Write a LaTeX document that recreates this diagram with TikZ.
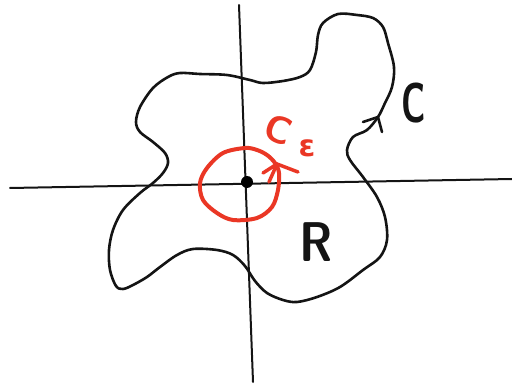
\documentclass[tikz,border=0pt]{standalone}
\usepackage{fontspec}
\newfontfamily\dejavu{DejaVu Sans}
\definecolor{pen}{RGB}{20,20,20}
\definecolor{redpen}{RGB}{234,55,37}
\tikzset{
  blackline/.style={draw=pen, line width=2.6pt, line cap=round, line join=round},
  redline/.style={draw=redpen, line width=4pt, line cap=round, line join=round},
  hand/.style={font=\sffamily\bfseries\fontsize{56}{56}\selectfont, text=pen, inner sep=0pt},
  redhand/.style={font=\sffamily\bfseries\fontsize{38}{38}\selectfont, text=redpen, inner sep=0pt}
}
\begin{document}
\begin{tikzpicture}[x=1pt, y=-1pt]
\useasboundingbox (0,0) rectangle (512,385);
% axes
\coordinate (xl) at (10,188);
\coordinate (xr) at (512,179);
\coordinate (yt) at (239,5);
\coordinate (yb) at (253,382);
\draw[blackline, line width=2pt] (xl) -- (xr);
\draw[blackline, line width=2pt] (yt) -- (yb);
% region boundary C
\draw[blackline] plot[smooth cycle, tension=0.55] coordinates {
 (180,73) (200,74) (227,75) (250,80) (263,83) (283,81) (300,77) (310,70)
 (316,52) (318,35) (323,23) (338,14) (357,15) (373,18) (383,27) (388,43)
 (394,67) (392,87) (385,103) (378,117) (367,130) (353,137) (347,150)
 (350,160) (363,177) (377,197) (385,217) (387,240) (380,257) (363,270)
 (340,287) (317,297) (297,302) (283,300) (267,293) (255,281) (245,266)
 (233,255) (217,250) (193,249) (177,255) (160,267) (147,277) (133,285)
 (123,289) (116,286) (110,270) (109,250) (113,230) (123,210) (140,193)
 (153,183) (163,173) (168,163) (165,153) (153,142) (140,132) (136,122)
 (140,107) (153,88) (168,77)};
% arrowhead on C
\coordinate (ctip) at (378,117);
\coordinate (cb1) at (363,122);
\coordinate (cb2) at (382,132);
\draw[blackline] (cb1) -- (ctip) -- (cb2);
% small circle C_eps
\draw[redline] plot[smooth cycle, tension=0.55] coordinates {
 (245,148) (223,153) (207,168) (200,183) (203,200) (217,213) (233,220)
 (257,218) (272,207) (278,190) (279,173) (275,163) (267,155) (257,150)};
% red arrow
\coordinate (rs) at (269,182);
\coordinate (rtip) at (277,164);
\coordinate (rb1) at (298,172);
\coordinate (rb2) at (263,173);
\draw[redline, line width=3.5pt] (rs) -- (rtip);
\draw[redline, line width=3.5pt] (rb2) -- (rtip) -- (rb1);
% origin
\node[circle, fill=black, inner sep=0pt, minimum size=12pt] (o) at (247,182) {};
% labels
\node[hand, xscale=0.62] (lc) at (414,103) {C};
\node[hand, xscale=0.85] (lr) at (316,242) {R};
\node[redhand, rotate=-20] (lce) at (279,130) {C};
\node[redhand, font=\dejavu\bfseries\fontsize{30}{30}\selectfont] (leps) at (307,148) {ε};
\end{tikzpicture}
\end{document}
